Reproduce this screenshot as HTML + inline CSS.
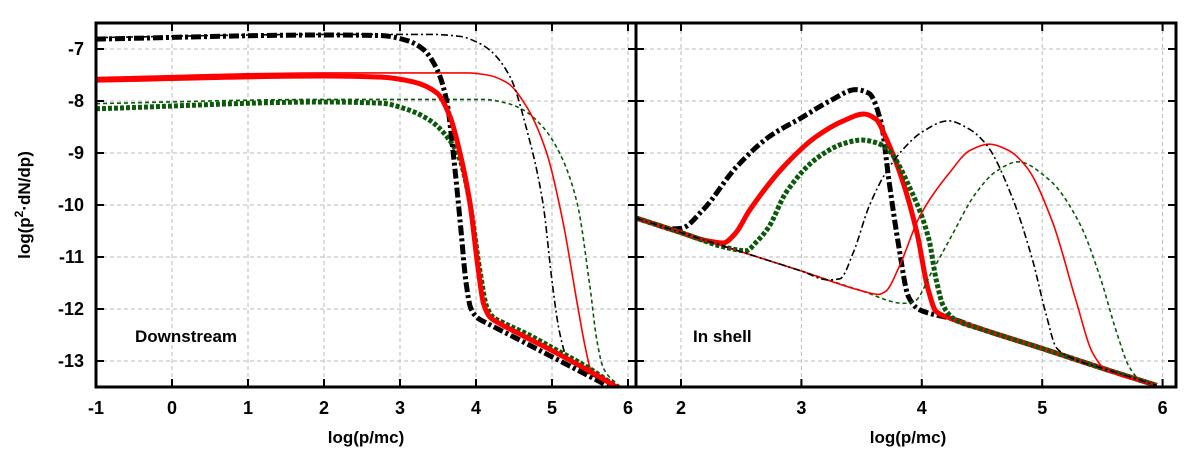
<!DOCTYPE html>
<html><head><meta charset="utf-8"><style>
html,body{margin:0;padding:0;background:#fff;}
svg{display:block;font-family:"Liberation Sans",Arial,sans-serif;font-weight:bold;}
</style></head><body>
<svg id="chart" width="1200" height="450" viewBox="0 0 1200 450" xmlns="http://www.w3.org/2000/svg">
<g id="grid"></g>
<g id="series"></g>
<g id="axes"></g>
<text x="30" y="205" font-size="17" text-anchor="middle" transform="rotate(-90 30 205)">log(p<tspan font-size="12" dy="-7">2</tspan><tspan dy="7">·dN/dp)</tspan></text>
<text x="366" y="443" font-size="17" text-anchor="middle">log(p/mc)</text>
<text x="908" y="443" font-size="17" text-anchor="middle">log(p/mc)</text>
<text x="135" y="342" font-size="17">Downstream</text>
<text x="693" y="342" font-size="17">In shell</text>
</svg>
<script>
// ---- data ----
const yTicks = [-7,-8,-9,-10,-11,-12,-13];
const xTicksLeft = [-1,0,1,2,3,4,5,6];
const xTicksRight = [2,3,4,5,6];
// Downstream panel series: [log(p/mc), log(p^2 dN/dp)]
const downBlackThick = [[-1,-6.81],[2,-6.73],[2.74,-6.74],[3.1,-6.84],[3.3,-7.0],[3.49,-7.4],[3.62,-8.04],[3.7,-9.0],[3.79,-10.29],[3.87,-11.5],[3.93,-11.98],[4.02,-12.17],[4.14,-12.27],[4.5,-12.54],[5.0,-12.92],[5.5,-13.3],[5.76,-13.5]];
const downBlackThin = [[-1,-6.78],[2,-6.72],[3.4,-6.72],[3.8,-6.76],[4.0,-6.86],[4.18,-7.02],[4.45,-7.54],[4.67,-8.56],[4.88,-9.96],[5.01,-11.58],[5.1,-12.45],[5.2,-12.95],[5.5,-13.25],[5.8,-13.48]];
const downRedThin = [[-1,-7.55],[2,-7.46],[3.9,-7.46],[4.15,-7.5],[4.41,-7.65],[4.67,-8.12],[4.93,-9.0],[5.14,-10.29],[5.33,-11.88],[5.44,-12.75],[5.52,-13.2],[5.9,-13.5]];
const downRedThick = [[-1,-7.6],[2,-7.52],[2.74,-7.54],[3.17,-7.63],[3.49,-7.85],[3.66,-8.31],[3.79,-9.0],[3.92,-9.96],[4.03,-11.25],[4.1,-11.9],[4.18,-12.15],[4.3,-12.27],[4.6,-12.5],[5.0,-12.8],[5.5,-13.2],[5.85,-13.5]];
const downGreenThick = [[-1,-8.15],[2,-8.02],[2.74,-8.04],[3.09,-8.16],[3.39,-8.37],[3.62,-8.69],[3.79,-9.13],[3.92,-9.96],[4.05,-11.25],[4.14,-11.95],[4.22,-12.15],[4.34,-12.25],[4.7,-12.5],[5.0,-12.74],[5.5,-13.15],[5.85,-13.5]];
const downGreenThin = [[-1,-8.05],[2,-7.97],[4.1,-7.97],[4.4,-8.04],[4.62,-8.17],[4.88,-8.5],[5.1,-9.0],[5.33,-9.96],[5.5,-11.58],[5.59,-12.6],[5.68,-13.15],[5.9,-13.5]];
// In-shell panel series
const shellBlackThick = [[1.626,-10.25],[1.8,-10.38],[1.92,-10.46],[2.0,-10.45],[2.18,-10.1],[2.46,-9.27],[2.73,-8.69],[3.01,-8.31],[3.25,-7.98],[3.45,-7.78],[3.56,-7.85],[3.66,-8.4],[3.73,-9.58],[3.81,-10.81],[3.89,-11.77],[3.97,-12.0],[4.06,-12.08],[4.24,-12.18],[4.5,-12.39],[5.0,-12.76],[5.5,-13.14],[5.95,-13.47]];
const shellRedThick = [[1.626,-10.25],[2.0,-10.53],[2.2,-10.68],[2.35,-10.73],[2.45,-10.55],[2.57,-10.1],[2.85,-9.27],[3.12,-8.69],[3.35,-8.38],[3.52,-8.25],[3.62,-8.35],[3.7,-8.7],[3.83,-9.46],[3.96,-10.54],[4.05,-11.6],[4.12,-12.05],[4.24,-12.18],[4.5,-12.39],[5.0,-12.76],[5.5,-13.14],[5.95,-13.47]];
const shellGreenThick = [[1.626,-10.25],[2.0,-10.53],[2.4,-10.83],[2.54,-10.88],[2.63,-10.7],[2.73,-10.42],[2.87,-9.77],[3.14,-9.08],[3.35,-8.82],[3.5,-8.75],[3.62,-8.8],[3.72,-8.94],[3.92,-9.77],[4.06,-10.67],[4.12,-11.44],[4.18,-11.95],[4.28,-12.21],[4.5,-12.39],[5.0,-12.76],[5.5,-13.14],[5.95,-13.47]];
const shellBlackThin = [[1.626,-10.25],[2.0,-10.53],[2.5,-10.9],[3.0,-11.27],[3.22,-11.44],[3.32,-11.42],[3.43,-10.92],[3.56,-10.04],[3.7,-9.38],[3.84,-8.94],[4.0,-8.6],[4.22,-8.38],[4.4,-8.55],[4.54,-8.85],[4.75,-9.85],[4.92,-11.06],[5.03,-12.08],[5.12,-12.75],[5.25,-12.95],[5.5,-13.14],[5.95,-13.47]];
const shellRedThin = [[1.626,-10.25],[2.0,-10.53],[2.5,-10.9],[3.0,-11.27],[3.5,-11.65],[3.64,-11.72],[3.7,-11.66],[3.81,-11.2],[3.98,-10.23],[4.23,-9.38],[4.4,-8.95],[4.56,-8.83],[4.72,-8.95],[4.87,-9.27],[5.08,-10.29],[5.28,-11.83],[5.42,-12.85],[5.52,-13.15],[5.95,-13.47]];
const shellGreenThin = [[1.626,-10.25],[2.0,-10.53],[2.5,-10.9],[3.0,-11.27],[3.5,-11.65],[3.85,-11.89],[3.94,-11.85],[4.08,-11.3],[4.23,-10.67],[4.45,-9.77],[4.62,-9.35],[4.8,-9.17],[5.06,-9.52],[5.31,-10.35],[5.48,-11.38],[5.62,-12.46],[5.72,-13.1],[5.82,-13.38],[5.95,-13.47]];

// ---- layout ----
const TOP=23, BOT=387, Y0=-13.5, PPY=52;
const L={x0:96,x1:636,v0:-1,ppx:76};
const R={x0:636,x1:1176,v0:2-45/120.4,ppx:120.4};
const yS=v=>BOT-(v-Y0)*PPY;
const xS=(p,v)=>p.x0+(v-p.v0)*p.ppx;
const NS='http://www.w3.org/2000/svg';
function mk(tag,attrs,parent){const e=document.createElementNS(NS,tag);for(const k in attrs)e.setAttribute(k,attrs[k]);parent.appendChild(e);return e;}
const grid=document.getElementById('grid'),axes=document.getElementById('axes'),series=document.getElementById('series');

function panel(p,xt,name){
  yTicks.forEach(t=>{
    const y=yS(t);
    const g=mk('line',{x1:p.x0,x2:p.x1,y1:y,y2:y,stroke:'#bbb','stroke-width':1,'stroke-dasharray':'4,3'},grid);
    
    
    const a=mk('line',{x1:p.x0,x2:p.x0+8,y1:y,y2:y,stroke:'#000','stroke-width':2},axes);
    
    
    const b=mk('line',{x1:p.x1-8,x2:p.x1,y1:y,y2:y,stroke:'#000','stroke-width':2},axes);
    
    
  });
  xt.forEach((t,i)=>{
    const x=xS(p,t);
    if(x>p.x0+2&&x<p.x1-2){
      const g=mk('line',{x1:x,x2:x,y1:TOP,y2:BOT,stroke:'#bbb','stroke-width':1,'stroke-dasharray':'4,3'},grid);
      
      
    }
    const a=mk('line',{x1:x,x2:x,y1:BOT,y2:BOT-8,stroke:'#000','stroke-width':2},axes);
    
    
    const b=mk('line',{x1:x,x2:x,y1:TOP,y2:TOP+8,stroke:'#000','stroke-width':2},axes);
    
    
    const tx=mk('text',{x:x,y:414,'font-size':18,'text-anchor':'middle'},axes);
    tx.textContent=String(t);
    
    
  });
  const r=mk('rect',{x:p.x0,y:TOP,width:p.x1-p.x0,height:BOT-TOP,fill:'none',stroke:'#000','stroke-width':3},axes);
  
  
}
panel(L,xTicksLeft,'downstream');
panel(R,xTicksRight,'in-shell');
yTicks.forEach(t=>{
  const tx=mk('text',{x:84,y:yS(t)+6,'font-size':18,'text-anchor':'end'},axes);
  tx.textContent=String(t);
  
  
});

// monotone cubic (Fritsch-Carlson) in pixel space
function pathD(p,pts){
  const P=pts.map(q=>[xS(p,q[0]),yS(q[1])]);
  const n=P.length, d=[], m=new Array(n);
  for(let i=0;i<n-1;i++) d.push((P[i+1][1]-P[i][1])/(P[i+1][0]-P[i][0]));
  m[0]=d[0]; m[n-1]=d[n-2];
  for(let i=1;i<n-1;i++){
    if(d[i-1]*d[i]<=0) m[i]=0;
    else{
      const h0=P[i][0]-P[i-1][0], h1=P[i+1][0]-P[i][0];
      const w1=2*h1+h0, w2=h1+2*h0;
      m[i]=(w1+w2)/(w1/d[i-1]+w2/d[i]);
    }
  }
  let s='M'+P[0][0].toFixed(1)+','+P[0][1].toFixed(1);
  for(let i=0;i<n-1;i++){
    const h=(P[i+1][0]-P[i][0])/3;
    s+=' C'+(P[i][0]+h).toFixed(1)+','+(P[i][1]+m[i]*h).toFixed(1)+' '+(P[i+1][0]-h).toFixed(1)+','+(P[i+1][1]-m[i+1]*h).toFixed(1)+' '+P[i+1][0].toFixed(1)+','+P[i+1][1].toFixed(1);
  }
  return s;
}
const clipL=mk('clipPath',{id:'cl'},series);mk('rect',{x:L.x0,y:TOP,width:L.x1-L.x0,height:BOT-TOP},clipL);
const clipR=mk('clipPath',{id:'cr'},series);mk('rect',{x:R.x0,y:TOP,width:R.x1-R.x0,height:BOT-TOP},clipR);
const styles={
  blackThick:{stroke:'#000','stroke-width':5,'stroke-dasharray':'10,3,3,3'},
  blackThin:{stroke:'#000','stroke-width':1.6,'stroke-dasharray':'7,3,2,3'},
  redThick:{stroke:'#f00','stroke-width':5},
  redThin:{stroke:'#f00','stroke-width':1.6},
  greenThick:{stroke:'#0a5a0a','stroke-width':5,'stroke-dasharray':'4,2'},
  greenThin:{stroke:'#0a5a0a','stroke-width':1.6,'stroke-dasharray':'4,3'}
};
function draw(p,pts,st,clip,name){
  const a=Object.assign({d:pathD(p,pts),fill:'none','clip-path':'url(#'+clip+')','stroke-linejoin':'round'},styles[st]);
  const e=mk('path',a,series);
  
  
}
draw(L,downGreenThin,'greenThin','cl','downstream-green-thin');
draw(L,downRedThin,'redThin','cl','downstream-red-thin');
draw(L,downBlackThin,'blackThin','cl','downstream-black-thin');
draw(L,downGreenThick,'greenThick','cl','downstream-green-thick');
draw(L,downBlackThick,'blackThick','cl','downstream-black-thick');
draw(L,downRedThick,'redThick','cl','downstream-red-thick');
draw(R,shellBlackThick,'blackThick','cr','in-shell-black-thick');
draw(R,shellRedThick,'redThick','cr','in-shell-red-thick');
draw(R,shellGreenThick,'greenThick','cr','in-shell-green-thick');
draw(R,shellGreenThin,'greenThin','cr','in-shell-green-thin');
draw(R,shellRedThin,'redThin','cr','in-shell-red-thin');
draw(R,shellBlackThin,'blackThin','cr','in-shell-black-thin');
</script>
</body></html>
